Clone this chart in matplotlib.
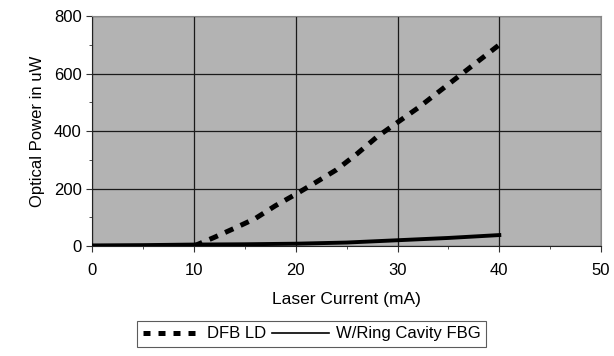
import numpy as np
import matplotlib.pyplot as plt
from matplotlib.lines import Line2D

plt.rcParams['font.family'] = ['Liberation Sans', 'DejaVu Sans']

# Data
dfb_current = [10, 12, 14, 16, 18, 20, 22, 24, 26, 28, 30, 32, 34, 36, 38, 40]
dfb_power = [0, 30, 62, 95, 140, 180, 222, 265, 320, 380, 430, 480, 535, 590, 645, 700]

ring_current = [0, 5, 10, 15, 20, 25, 30, 35, 40]
ring_power = [2, 3, 5, 6, 8, 12, 20, 28, 38]

labels = ['DFB LD', 'W/Ring Cavity FBG']

fig = plt.figure(figsize=(6.14, 3.56), dpi=100)
ax = fig.add_axes([0.15, 0.309, 0.829, 0.646])
ax.set_facecolor('#b3b3b3')

ax.plot(dfb_current, dfb_power, color='black', lw=3.6, dashes=(1.8, 1.6), zorder=3)
ax.plot(ring_current, ring_power, color='black', lw=2.8, zorder=3)

ax.set_xlim(0, 50)
ax.set_ylim(0, 800)
ax.set_xticks(np.arange(0, 51, 10))
ax.set_yticks(np.arange(0, 801, 200))
ax.set_xticks(np.arange(0, 51, 5), minor=True)
ax.set_yticks(np.arange(0, 801, 100), minor=True)
ax.grid(True, which='major', color='#1a1a1a', lw=0.9)
ax.tick_params(which='both', direction='out', labelsize=12, color='#333333')
ax.tick_params(which='major', length=4)
ax.tick_params(which='minor', length=2.5)
ax.tick_params(axis='x', pad=8)

for s in ['top', 'right']:
    ax.spines[s].set_color('#888888')
for s in ['left', 'bottom']:
    ax.spines[s].set_color('#222222')

ax.set_xlabel('Laser Current (mA)', fontsize=12.5, labelpad=10)
ax.set_ylabel('Optical Power in uW', fontsize=12, labelpad=6)

handles = [Line2D([], [], color='black', lw=3.6, dashes=(1.4, 1.6)),
           Line2D([], [], color='black', lw=1.2)]
leg = fig.legend(handles, labels, loc='center', bbox_to_anchor=(0.508, 0.062),
                 ncol=2, fontsize=12, frameon=True, fancybox=False,
                 handlelength=3.4, columnspacing=0.4, handletextpad=0.4,
                 borderpad=0.35)
leg.get_frame().set_edgecolor('#333333')
leg.get_frame().set_linewidth(0.8)

fig.savefig('out.png', dpi=100)
